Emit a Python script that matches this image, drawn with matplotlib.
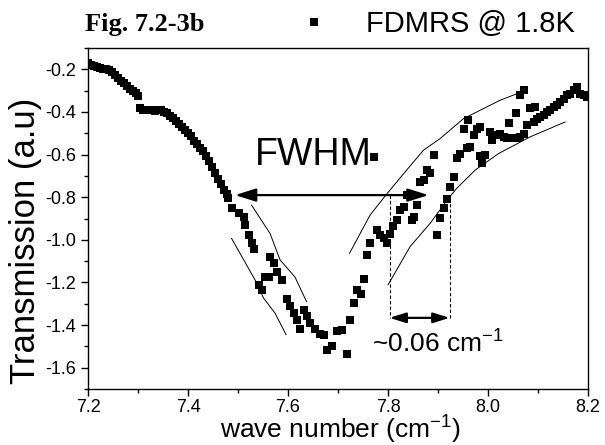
import matplotlib
matplotlib.use("Agg")
import matplotlib.pyplot as plt
from matplotlib.lines import Line2D
from matplotlib.ticker import MultipleLocator

plt.rcParams["font.family"] = ["Liberation Sans", "DejaVu Sans"]
plt.rcParams["mathtext.fontset"] = "custom"
plt.rcParams["mathtext.rm"] = "Liberation Sans"
plt.rcParams["mathtext.it"] = "Liberation Sans:italic"

wn = [
    7.200, 7.206, 7.212, 7.218, 7.224, 7.230, 7.236, 7.242, 7.248, 7.254,
    7.260, 7.266, 7.272, 7.278, 7.284, 7.290, 7.296, 7.300,
    7.303, 7.309, 7.315, 7.321, 7.327, 7.333, 7.339, 7.345, 7.351, 7.357,
    7.363, 7.369, 7.375, 7.381, 7.387, 7.393, 7.399, 7.405, 7.411, 7.417,
    7.423, 7.429, 7.435, 7.441, 7.447, 7.453, 7.459, 7.465, 7.471, 7.477,
    7.480, 7.487, 7.501, 7.511, 7.514, 7.521, 7.527, 7.531,
    7.554, 7.562, 7.541, 7.547,
    7.564, 7.571, 7.577, 7.587, 7.597, 7.604, 7.611, 7.617, 7.624,
    7.631, 7.637, 7.644, 7.654, 7.664, 7.671, 7.677, 7.687, 7.697, 7.707,
    7.717, 7.724, 7.731, 7.737, 7.745, 7.751, 7.757, 7.764, 7.771,
    7.777, 7.784, 7.791, 7.797, 7.804, 7.809, 7.817, 7.824, 7.831, 7.837,
    7.847, 7.851, 7.857, 7.864, 7.871, 7.877, 7.883, 7.891, 7.897, 7.904,
    7.911, 7.917, 7.924, 7.931, 7.937, 7.944, 7.951, 7.957, 7.960, 7.964,
    7.971, 7.977, 7.984, 7.984, 7.987, 7.994, 8.004, 8.007, 8.017, 8.024,
    8.031, 8.037, 8.041, 8.047, 8.055, 8.057, 8.064, 8.064, 8.071, 8.071,
    8.077, 8.084, 8.091, 8.094, 8.097, 8.104, 8.111, 8.117, 8.124, 8.131,
    8.137, 8.144, 8.151, 8.157, 8.164, 8.171, 8.177, 8.184, 8.191, 8.197,
]
trans = [
    -0.170, -0.180, -0.186, -0.190, -0.192, -0.196, -0.200, -0.205, -0.212, -0.225,
    -0.240, -0.255, -0.265, -0.278, -0.290, -0.300, -0.312, -0.325,
    -0.380, -0.390, -0.392, -0.393, -0.393, -0.394, -0.392, -0.393, -0.398, -0.405,
    -0.418, -0.430, -0.443, -0.456, -0.470, -0.483, -0.500, -0.515, -0.535, -0.552,
    -0.568, -0.585, -0.608, -0.632, -0.660, -0.688, -0.715, -0.740, -0.765, -0.785,
    -0.805, -0.852, -0.876, -0.891, -0.930, -0.977, -1.016, -1.044,
    -1.175, -1.175, -1.211, -1.236,
    -1.079, -1.110, -1.149, -1.188, -1.278, -1.310, -1.344, -1.375, -1.419,
    -1.328, -1.356, -1.391, -1.419, -1.441, -1.445, -1.516, -1.500, -1.430, -1.422,
    -1.534, -1.375, -1.294, -1.235, -1.253, -1.185, -1.071, -1.016, -0.611,
    -0.954, -0.977, -0.993, -1.016, -0.972, -0.935, -0.907, -0.860, -0.847, -0.790,
    -0.907, -0.894, -0.837, -0.728, -0.720, -0.673, -0.688, -0.603, -0.977, -0.899,
    -0.852, -0.810, -0.751, -0.704, -0.618, -0.595, -0.478, -0.571, -0.439, -0.564,
    -0.509, -0.482, -0.470, -0.607, -0.641, -0.603, -0.494, -0.532, -0.509, -0.501,
    -0.517, -0.524, -0.454, -0.524, -0.407, -0.524, -0.322, -0.517, -0.298, -0.501,
    -0.462, -0.379, -0.447, -0.377, -0.431, -0.423, -0.415, -0.400, -0.392, -0.377,
    -0.369, -0.353, -0.337, -0.322, -0.314, -0.298, -0.283, -0.314, -0.322, -0.330,
]

# hand-drawn guide lines
guide_a_x = [7.487, 7.534, 7.551, 7.574, 7.596]
guide_a_y = [-0.993, -1.188, -1.273, -1.344, -1.445]
guide_b_x = [7.527, 7.564, 7.584, 7.614, 7.637]
guide_b_y = [-0.837, -0.970, -1.094, -1.175, -1.290]
guide_c_x = [7.723, 7.764, 7.797, 7.837, 7.871, 7.904, 7.951, 8.024, 8.067]
guide_c_y = [-1.063, -0.884, -0.786, -0.673, -0.579, -0.525, -0.431, -0.345, -0.306]
guide_d_x = [7.800, 7.844, 7.884, 7.921, 7.937, 7.974, 8.021, 8.084, 8.154]
guide_d_y = [-1.211, -1.032, -0.923, -0.805, -0.759, -0.673, -0.595, -0.517, -0.447]

fwhm_x = [7.494, 7.881]
fwhm_y = -0.790
width_x = [7.803, 7.923]
width_top = [-0.790, -0.805]
width_y = -1.366

fig = plt.figure(figsize=(6.05, 4.45), dpi=100)
ax = fig.add_axes([0.1455, 0.1258, 0.8265, 0.7662])

ax.plot(wn, trans, "s", color="black", ms=5.3, mew=0, label="FDMRS @ 1.8K")
for gx, gy in [(guide_a_x, guide_a_y), (guide_b_x, guide_b_y),
               (guide_c_x, guide_c_y), (guide_d_x, guide_d_y)]:
    ax.plot(gx, gy, color="black", lw=0.7)

# FWHM arrow
ax.annotate("", xy=(fwhm_x[0], fwhm_y), xytext=(fwhm_x[1], fwhm_y),
            arrowprops=dict(arrowstyle="<|-|>,head_length=0.7,head_width=0.22",
                            mutation_scale=18, color="black", lw=1.6,
                            shrinkA=0, shrinkB=0))
ax.text(7.534, -0.649, "FWHM", fontsize=27, ha="left", va="baseline")

# width marker
for x0, y0 in zip(width_x, width_top):
    ax.plot([x0, x0], [y0, width_y], color="black", lw=0.8, ls=(0, (3, 2)))
ax.annotate("", xy=(width_x[0], width_y), xytext=(width_x[1], width_y),
            arrowprops=dict(arrowstyle="<|-|>,head_length=0.7,head_width=0.22",
                            mutation_scale=14, color="black", lw=1.6,
                            shrinkA=0, shrinkB=0))
ax.text(7.768, -1.530, r"~0.06 cm$^{\mathregular{-1}}$", fontsize=19,
        ha="left", va="baseline")

ax.set_xlim(7.2, 8.2)
ax.set_ylim(-1.7, -0.1)
ax.xaxis.set_major_locator(MultipleLocator(0.2))
ax.xaxis.set_minor_locator(MultipleLocator(0.1))
ax.yaxis.set_major_locator(MultipleLocator(0.2))
ax.yaxis.set_minor_locator(MultipleLocator(0.1))
ax.xaxis.set_major_formatter(plt.FormatStrFormatter("%.1f"))
ax.yaxis.set_major_formatter(plt.FormatStrFormatter("%.1f"))
ax.tick_params(which="both", direction="out", top=False, right=False,
               labelsize=13, width=1.0)
ax.tick_params(axis="x", pad=2)
ax.tick_params(which="major", length=5)
ax.tick_params(which="minor", length=3)
for s in ax.spines.values():
    s.set_linewidth(1.0)

# axis titles placed as figure text to match the original placement
fig.text(0.562, 0.0135, r"wave number (cm$^{\mathregular{-1}}$)", fontsize=19,
         ha="center", va="baseline")
fig.text(0.042, 0.458, "Transmission (a.u)", fontsize=25, rotation=90,
         ha="center", va="center")

fig.text(0.14, 0.945, "Fig. 7.2-3b", family="Liberation Serif", weight="bold",
         fontsize=19, va="center")
fig.legend(handles=[Line2D([], [], ls="none", marker="s", color="black",
                           ms=5.3, mew=0)],
           labels=["FDMRS @ 1.8K"], loc="center right",
           bbox_to_anchor=(0.975, 0.945), frameon=False, fontsize=21,
           handlelength=1.0, handletextpad=1.3, borderpad=0)

fig.savefig("out.png", dpi=100)
